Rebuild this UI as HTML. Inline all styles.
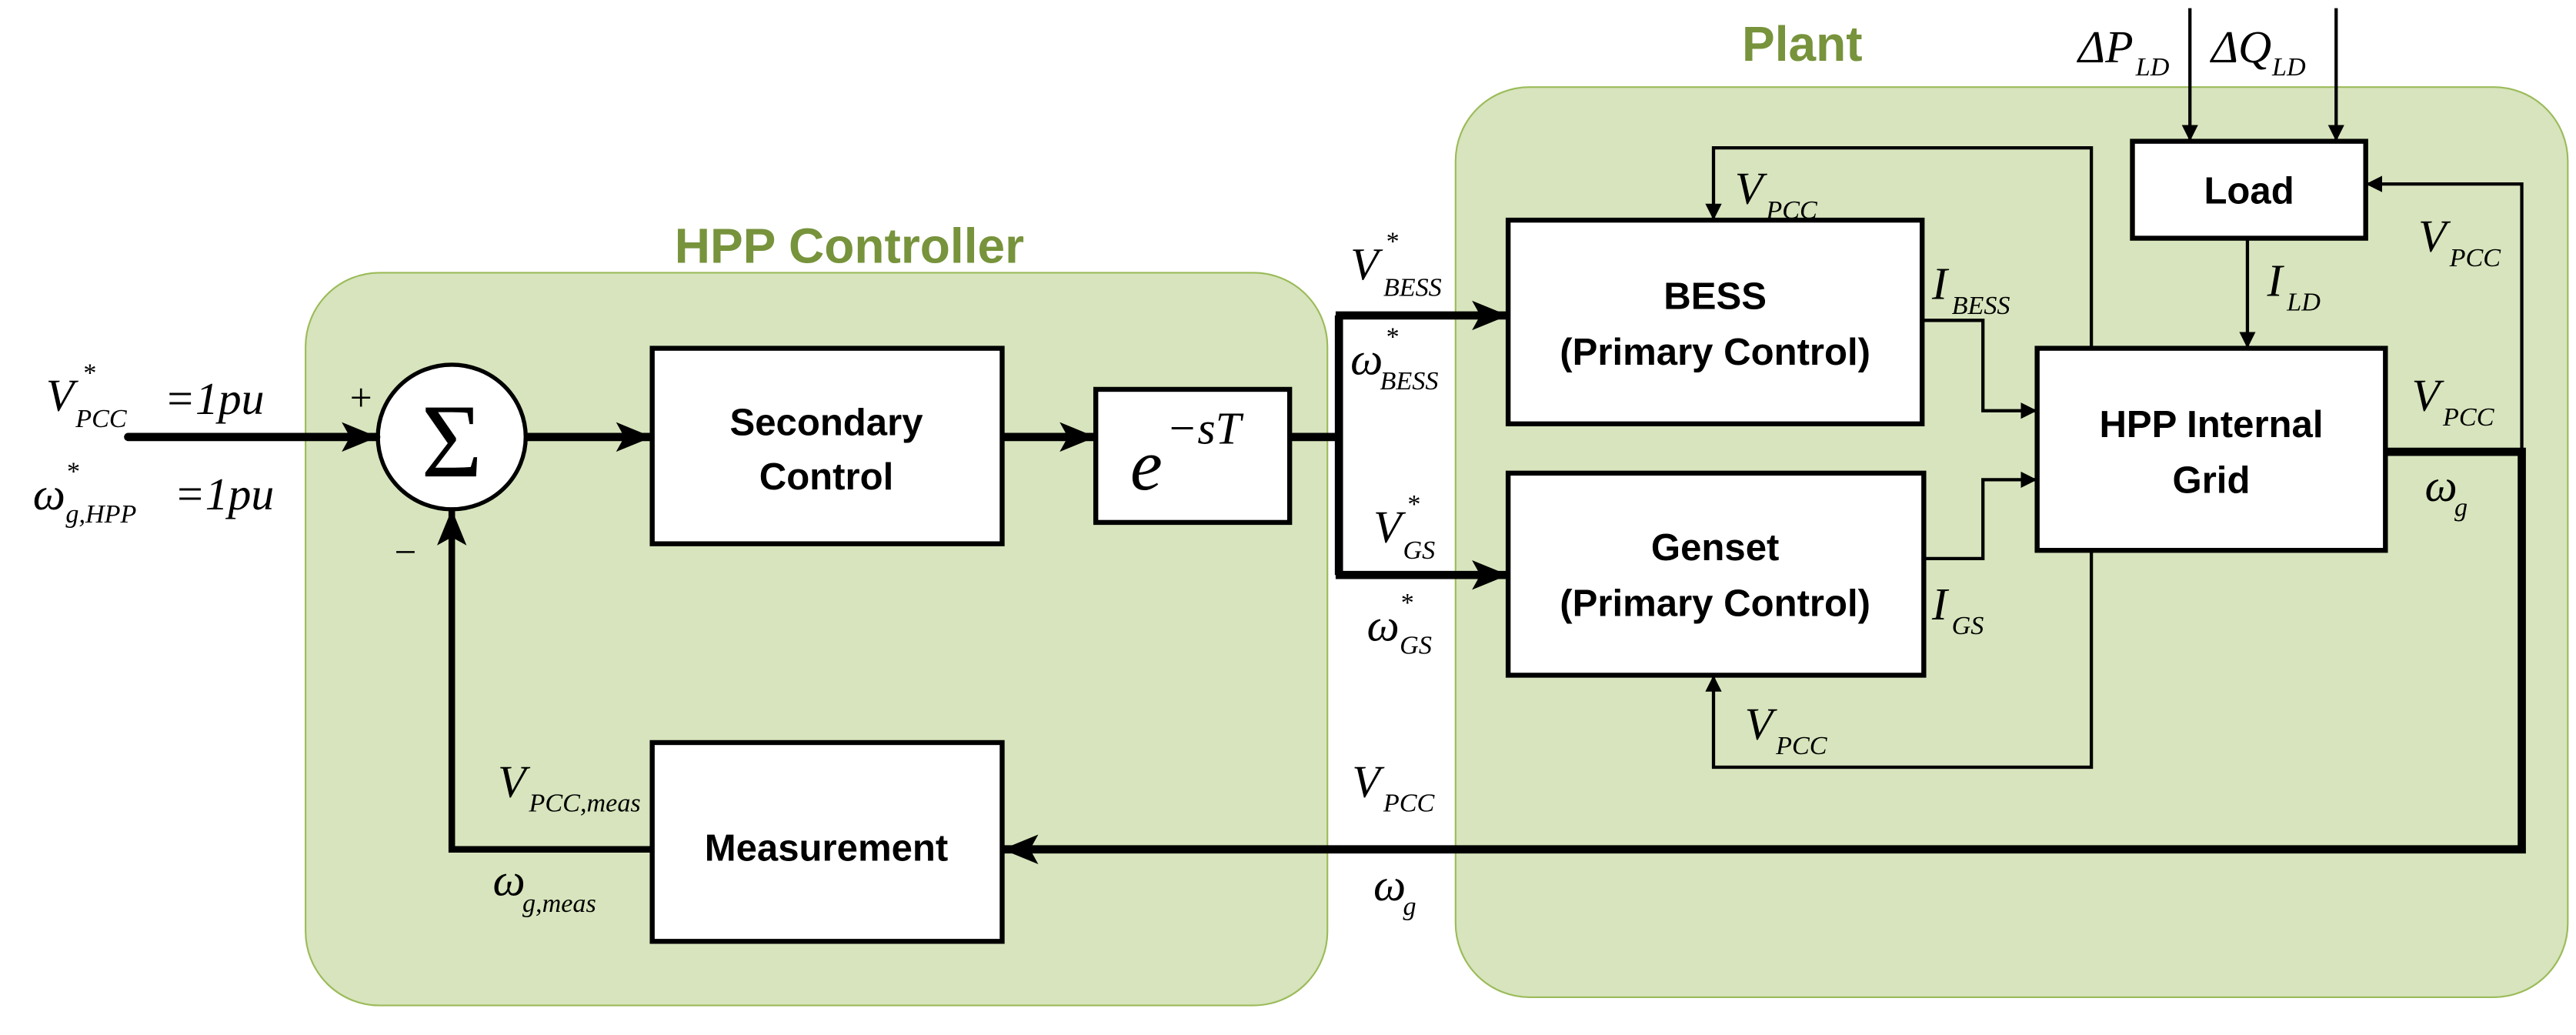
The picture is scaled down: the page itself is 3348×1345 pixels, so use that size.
<!DOCTYPE html>
<html><head><meta charset="utf-8"><style>
html,body{margin:0;padding:0;background:#fff;}
svg{display:block;}
.m{font-family:"Liberation Serif",serif;font-style:italic;fill:#000;}
.b{font-family:"Liberation Sans",sans-serif;font-weight:bold;fill:#000;text-anchor:middle;}
.t{font-family:"Liberation Sans",sans-serif;font-weight:bold;fill:#77933C;text-anchor:middle;}
</style></head><body>
<svg width="3348" height="1345" viewBox="0 0 1568 630" preserveAspectRatio="none" xmlns="http://www.w3.org/2000/svg">
<defs>
<marker id="a" markerWidth="10" markerHeight="10" refX="9" refY="5" orient="auto" markerUnits="userSpaceOnUse"><path d="M0,0 L10,5 L0,10 z" fill="#000"/></marker>
<marker id="A" markerWidth="22" markerHeight="18" refX="21" refY="9" orient="auto" markerUnits="userSpaceOnUse"><path d="M0,0 L22,9 L0,18 L5,9 z" fill="#000"/></marker>
</defs>
<rect x="186" y="166" width="622" height="446" rx="45" fill="#D7E4BD" stroke="#9BBB59" stroke-width="1"/>
<rect x="886" y="53" width="677" height="554" rx="45" fill="#D7E4BD" stroke="#9BBB59" stroke-width="1"/>
<text class="t" x="517" y="160" font-size="30">HPP Controller</text>
<text class="t" x="1097" y="37" font-size="30">Plant</text>

<!-- controller -->
<ellipse cx="275" cy="266" rx="45" ry="44" fill="#fff" stroke="#000" stroke-width="2.5"/>
<text x="275" y="290" font-family="Liberation Serif,serif" font-size="64" text-anchor="middle">Σ</text>
<rect x="397" y="212" width="213" height="119" fill="#fff" stroke="#000" stroke-width="3"/>
<text class="b" x="503" y="265" font-size="23">Secondary</text>
<text class="b" x="503" y="298" font-size="23">Control</text>
<rect x="667" y="237" width="118" height="81" fill="#fff" stroke="#000" stroke-width="3"/>
<text class="m" x="688" y="298" font-size="44">e</text>
<text class="m" x="710" y="270" font-size="28">−sT</text>
<rect x="397" y="452" width="213" height="121" fill="#fff" stroke="#000" stroke-width="3"/>
<text class="b" x="503" y="524" font-size="23">Measurement</text>

<line x1="78" y1="266" x2="229" y2="266" stroke="#000" stroke-width="5" stroke-linecap="round" marker-end="url(#A)"/>
<line x1="320" y1="266" x2="396" y2="266" stroke="#000" stroke-width="5" marker-end="url(#A)"/>
<line x1="610" y1="266" x2="666" y2="266" stroke="#000" stroke-width="5" marker-end="url(#A)"/>
<polyline points="397,517 275,517 275,311" fill="none" stroke="#000" stroke-width="4" marker-end="url(#A)"/>
<text x="213" y="250" font-family="Liberation Serif,serif" font-size="24">+</text>
<text x="240" y="344" font-family="Liberation Serif,serif" font-size="24">−</text>

<text class="m" x="28" y="250" font-size="28">V</text><text class="m" x="50" y="232" font-size="16">*</text><text class="m" x="46" y="260" font-size="16">PCC</text><text class="m" x="100" y="252" font-size="28" font-style="normal">=1<tspan font-style="italic">pu</tspan></text>
<text class="m" x="20" y="310" font-size="28">ω</text><text class="m" x="40" y="292" font-size="16">*</text><text class="m" x="40" y="318" font-size="16">g,HPP</text><text class="m" x="106" y="310" font-size="28">=1pu</text>

<text class="m" x="303" y="485" font-size="28">V</text><text class="m" x="322" y="494" font-size="16">PCC,meas</text>
<text class="m" x="300" y="545" font-size="28">ω</text><text class="m" x="318" y="555" font-size="16">g,meas</text>

<!-- split -->
<polyline points="785,266 815,266" fill="none" stroke="#000" stroke-width="5"/>
<line x1="815" y1="192" x2="815" y2="350" stroke="#000" stroke-width="5"/>
<line x1="813" y1="192" x2="917" y2="192" stroke="#000" stroke-width="5" marker-end="url(#A)"/>
<line x1="813" y1="350" x2="917" y2="350" stroke="#000" stroke-width="5" marker-end="url(#A)"/>
<text class="m" x="822" y="170" font-size="28">V</text><text class="m" x="843" y="152" font-size="16">*</text><text class="m" x="842" y="180" font-size="16">BESS</text>
<text class="m" x="822" y="228" font-size="28">ω</text><text class="m" x="843" y="210" font-size="16">*</text><text class="m" x="840" y="237" font-size="16">BESS</text>
<text class="m" x="836" y="330" font-size="28">V</text><text class="m" x="856" y="312" font-size="16">*</text><text class="m" x="854" y="340" font-size="16">GS</text>
<text class="m" x="832" y="390" font-size="28">ω</text><text class="m" x="852" y="372" font-size="16">*</text><text class="m" x="852" y="398" font-size="16">GS</text>

<!-- plant boxes -->
<rect x="918" y="134" width="252" height="124" fill="#fff" stroke="#000" stroke-width="3"/>
<text class="b" x="1044" y="188" font-size="23">BESS</text>
<text class="b" x="1044" y="222" font-size="23">(Primary Control)</text>
<rect x="918" y="288" width="253" height="123" fill="#fff" stroke="#000" stroke-width="3"/>
<text class="b" x="1044" y="341" font-size="23">Genset</text>
<text class="b" x="1044" y="375" font-size="23">(Primary Control)</text>
<rect x="1240" y="212" width="212" height="123" fill="#fff" stroke="#000" stroke-width="3"/>
<text class="b" x="1346" y="266" font-size="23">HPP Internal</text>
<text class="b" x="1346" y="300" font-size="23">Grid</text>
<rect x="1298" y="86" width="142" height="59" fill="#fff" stroke="#000" stroke-width="3"/>
<text class="b" x="1369" y="124" font-size="23">Load</text>

<polyline points="1170,195 1207,195 1207,250 1239,250" fill="none" stroke="#000" stroke-width="2" marker-end="url(#a)"/>
<polyline points="1171,340 1207,340 1207,292 1239,292" fill="none" stroke="#000" stroke-width="2" marker-end="url(#a)"/>
<polyline points="1273,212 1273,90 1043,90 1043,133" fill="none" stroke="#000" stroke-width="2" marker-end="url(#a)"/>
<polyline points="1273,335 1273,467 1043,467 1043,412" fill="none" stroke="#000" stroke-width="2" marker-end="url(#a)"/>
<line x1="1368" y1="145" x2="1368" y2="211" stroke="#000" stroke-width="2" marker-end="url(#a)"/>
<line x1="1333" y1="5" x2="1333" y2="85" stroke="#000" stroke-width="2" marker-end="url(#a)"/>
<line x1="1422" y1="5" x2="1422" y2="85" stroke="#000" stroke-width="2" marker-end="url(#a)"/>
<polyline points="1535,275 1535,112 1441,112" fill="none" stroke="#000" stroke-width="2" marker-end="url(#a)"/>
<polyline points="1452,275 1535,275 1535,517 611,517" fill="none" stroke="#000" stroke-width="5" marker-end="url(#A)"/>

<text class="m" x="1176" y="182" font-size="28">I</text><text class="m" x="1188" y="191" font-size="16">BESS</text>
<text class="m" x="1176" y="377" font-size="28">I</text><text class="m" x="1188" y="386" font-size="16">GS</text>
<text class="m" x="1056" y="124" font-size="28">V</text><text class="m" x="1075" y="133" font-size="16">PCC</text>
<text class="m" x="1062" y="450" font-size="28">V</text><text class="m" x="1081" y="459" font-size="16">PCC</text>
<text class="m" x="1380" y="180" font-size="28">I</text><text class="m" x="1392" y="189" font-size="16">LD</text>
<text class="m" x="1472" y="153" font-size="28">V</text><text class="m" x="1491" y="162" font-size="16">PCC</text>
<text class="m" x="1468" y="250" font-size="28">V</text><text class="m" x="1487" y="259" font-size="16">PCC</text>
<text class="m" x="1476" y="305" font-size="28">ω</text><text class="m" x="1494" y="314" font-size="16">g</text>
<text class="m" x="1265" y="38" font-size="28" font-style="normal">Δ<tspan font-style="italic">P</tspan></text><text class="m" x="1300" y="46" font-size="16">LD</text>
<text class="m" x="1346" y="38" font-size="28" font-style="normal">Δ<tspan font-style="italic">Q</tspan></text><text class="m" x="1383" y="46" font-size="16">LD</text>
<text class="m" x="823" y="485" font-size="28">V</text><text class="m" x="842" y="494" font-size="16">PCC</text>
<text class="m" x="836" y="548" font-size="28">ω</text><text class="m" x="854" y="557" font-size="16">g</text>
</svg>
</body></html>
